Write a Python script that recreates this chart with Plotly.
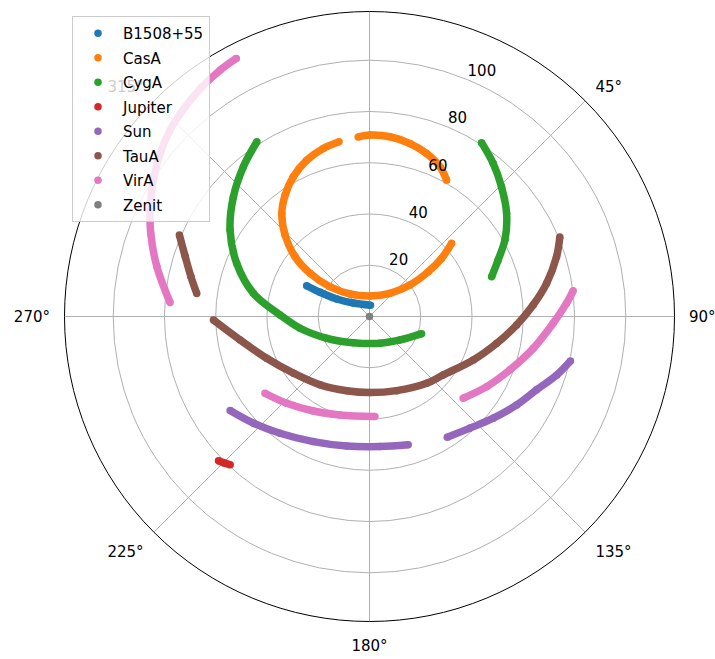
import plotly.graph_objects as go

# Sky tracks: azimuth (deg, clockwise from north) and zenith distance (deg).
# None separates observing segments of the same source.
names = ["B1508+55", "CasA", "CygA", "Jupiter", "Sun", "TauA", "VirA", "Zenit"]
colors = ["#1f77b4", "#ff7f0e", "#2ca02c", "#d62728",
          "#9467bd", "#8c564b", "#e377c2", "#7f7f7f"]

b1508_az = [296.1, 296.1, 298.1, 309.8, 5.1]
b1508_zd = [27.3, 21.5, 14.5, 8.2, 4.4]

casa_az = [350.1, 344.6, 338.1, 331.4, 325.2, 319.6, 314.0, 308.8, 306.0, 307.0,
           319.1, 1.4, 41.5, 52.1, 52.7, 51.1, 48.3, None,
           356.4, 0.2, 6.5, 13.2, 19.3, 25.2, 29.5]
casa_zd = [69.2, 68.0, 65.7, 62.1, 57.7, 52.8, 45.8, 37.3, 28.7, 19.3,
           11.6, 8.0, 12.1, 20.0, 28.8, 36.1, 42.9, None,
           70.2, 70.8, 70.6, 69.3, 67.4, 64.6, 61.1]

cyga_az = [327.2, 319.9, 311.3, 301.8, 291.8, 281.3, 271.0, 260.4, 243.0, 211.7,
           158.6, 127.6, 108.2, None,
           32.8, 38.9, 45.5, 53.1, 60.5, 66.3, 72.0]
cyga_zd = [81.1, 76.4, 70.7, 64.0, 55.8, 46.2, 34.9, 27.5, 18.7, 12.0,
           11.2, 15.0, 21.4, None,
           80.7, 76.8, 72.2, 66.9, 60.7, 54.8, 50.1]

jupiter_az = [226.3, 224.8, 223.2]
jupiter_zd = [81.5, 80.5, 79.4]

sun_az = [236.0, 227.4, 217.5, 204.2, 190.0, 175.4, 163.2, None,
          147.2, 138.0, 129.4, 121.0, 113.7, 107.4, 102.5]
sun_zd = [65.6, 61.5, 57.4, 53.5, 51.3, 50.9, 52.3, None,
          56.0, 58.6, 62.5, 67.0, 71.2, 76.5, 80.3]

taua_az = [293.2, 288.0, 282.6, 277.6, None,
           268.7, 259.7, 247.9, 233.3, 215.9, 197.1, 179.6, 159.9, 139.4, 128.4,
           112.7, 101.9, 93.3, 86.0, 79.4, 72.3, 67.3]
taua_zd = [80.7, 75.6, 71.4, 68.0, None,
           60.9, 51.3, 43.3, 37.0, 32.9, 30.3, 29.7, 30.8, 34.3, 36.7,
           43.9, 50.7, 57.5, 64.0, 70.3, 76.6, 80.5]

vira_az = [332.7, 328.8, 323.9, 318.7, 313.1, 307.9, 302.3, 296.6, 290.8, 283.2,
           274.0, None,
           233.7, 223.6, 210.7, 196.7, 176.9, None,
           131.1, 120.9, 110.8, 101.0, 92.1, 86.2, 82.8]
vira_zd = [113.3, 112.4, 110.9, 108.9, 106.5, 103.5, 99.7, 95.7, 91.3, 85.2,
           78.0, None,
           50.6, 46.8, 42.9, 40.1, 39.1, None,
           48.5, 53.3, 58.6, 65.1, 71.7, 77.0, 80.1]

zenit_az = [0.0]
zenit_zd = [0.0]

tracks = [
    (b1508_az, b1508_zd), (casa_az, casa_zd), (cyga_az, cyga_zd),
    (jupiter_az, jupiter_zd), (sun_az, sun_zd), (taua_az, taua_zd),
    (vira_az, vira_zd), (zenit_az, zenit_zd),
]

r_ticks = [20, 40, 60, 80, 100]
r_label_az = 22.5
theta_ticks = [0, 45, 90, 135, 180, 225, 270, 315]
theta_text = ["", "45°", "90°", "135°", "180°", "225°", "270°", "315°"]

fig = go.Figure()
for name, color, (az, zd) in zip(names, colors, tracks):
    if len(az) > 1:
        fig.add_trace(go.Scatterpolar(
            theta=az, r=zd, mode="lines", name=name, legendgroup=name,
            showlegend=False, connectgaps=False,
            line=dict(color=color, width=7.5, shape="spline", smoothing=1.0),
            hoverinfo="skip",
        ))
    fig.add_trace(go.Scatterpolar(
        theta=az, r=zd, mode="markers", name=name, legendgroup=name,
        marker=dict(color=color, size=7.5),
    ))

# radial tick labels, upright, just outside each ring along the label spoke
fig.add_trace(go.Scatterpolar(
    theta=[r_label_az] * len(r_ticks), r=r_ticks, mode="text",
    text=[str(v) for v in r_ticks], textposition="top right",
    textfont=dict(family="DejaVu Sans", size=15, color="#000000"),
    showlegend=False, hoverinfo="skip",
))

fig.update_layout(
    width=715, height=659,
    margin=dict(l=0, r=0, t=0, b=0),
    paper_bgcolor="white",
    font=dict(family="DejaVu Sans", size=15, color="#000000"),
    polar=dict(
        domain=dict(x=[64.5 / 715, 674.5 / 715], y=[1 - 621.5 / 659, 1 - 11.5 / 659]),
        bgcolor="white",
        angularaxis=dict(
            rotation=90, direction="clockwise",
            tickmode="array", tickvals=theta_ticks, ticktext=theta_text,
            showline=True, linecolor="black", linewidth=1,
            gridcolor="#b0b0b0", gridwidth=0.8,
            ticks="outside", ticklen=11, tickcolor="rgba(0,0,0,0)",
            tickfont=dict(size=15, color="#000000"),
        ),
        radialaxis=dict(
            range=[0, 119], angle=90 - r_label_az,
            tickmode="array", tickvals=r_ticks, showticklabels=False,
            showline=False, ticks="",
            gridcolor="#b0b0b0", gridwidth=0.8,
        ),
    ),
    legend=dict(
        x=72 / 715, y=1 - 16 / 659, xanchor="left", yanchor="top",
        bgcolor="rgba(255,255,255,0.8)", bordercolor="#cccccc", borderwidth=1,
        font=dict(family="DejaVu Sans", size=15, color="#000000"),
        traceorder="grouped", tracegroupgap=2, itemwidth=40,
        entrywidth=92, entrywidthmode="pixels",
    ),
)

fig.write_html("out.html")
